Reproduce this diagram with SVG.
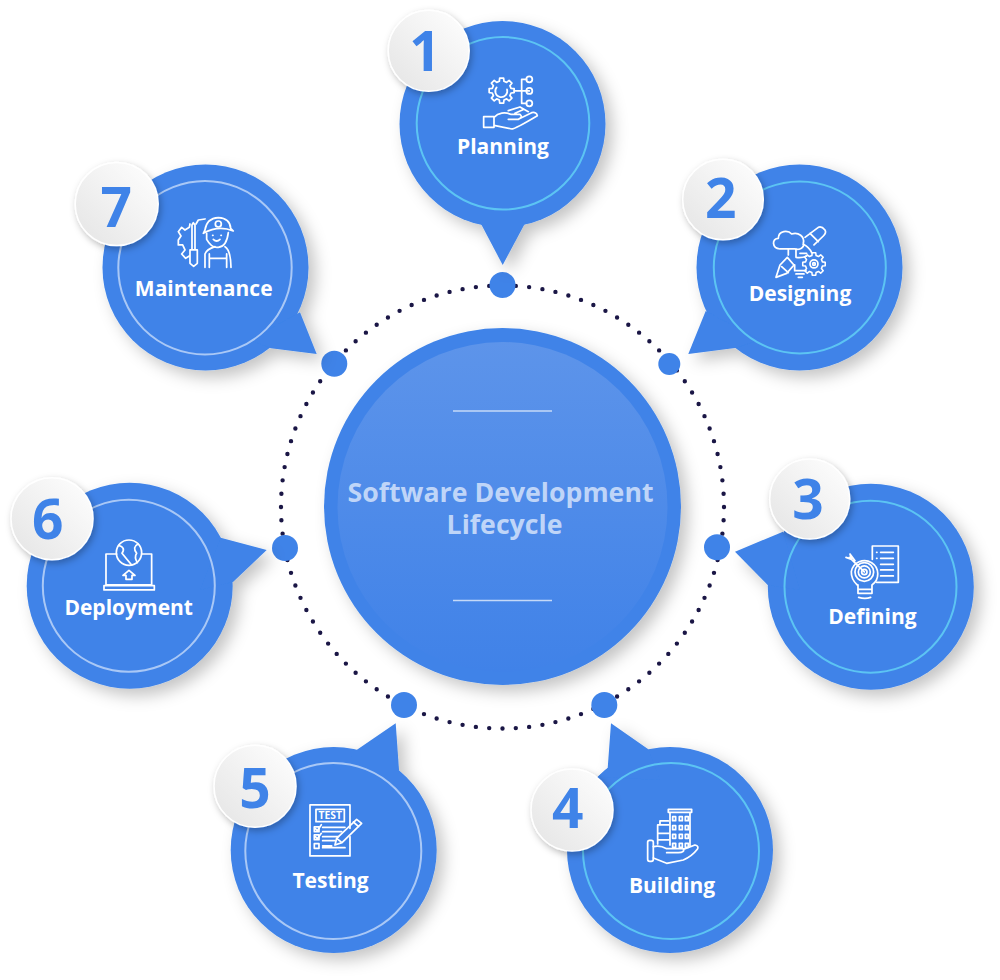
<svg xmlns="http://www.w3.org/2000/svg" width="1000" height="980" viewBox="0 0 1000 980">
<style>
.b{fill:#3f83e8}
.sh{filter:url(#sh)}
.bsh{filter:url(#bsh)}
.rc{fill:none;stroke:#5cc4f3;stroke-width:2}
.rl{fill:none;stroke:#a9c8f6;stroke-width:2}
.lbl{font:700 21px "Open Sans","Liberation Sans",sans-serif;fill:#fff;text-anchor:middle}
.num{font:700 55px "Open Sans","Liberation Sans",sans-serif;fill:#3f83e8;text-anchor:middle}
.ttl{font:700 26.700px "Open Sans","Liberation Sans",sans-serif;fill:#bfd5f8;text-anchor:middle}
.bd{fill:url(#bg);stroke:#fff;stroke-width:1.5}
.ic{fill:none;stroke:#fff;stroke-width:5.200;stroke-linecap:round;stroke-linejoin:round}
.tt{font:700 31px "Open Sans","Liberation Sans",sans-serif;fill:#fff;stroke:none;text-anchor:middle}
</style>
<defs>
<filter id="sh" x="-20%" y="-20%" width="150%" height="150%"><feDropShadow dx="7" dy="7" stdDeviation="8" flood-color="#000" flood-opacity=".23"/></filter>
<filter id="bsh" x="-30%" y="-30%" width="170%" height="170%"><feDropShadow dx="2" dy="3" stdDeviation="3.500" flood-color="#000" flood-opacity=".28"/></filter>
<linearGradient id="bg" x1="0" y1="1" x2="1" y2="0"><stop offset="0" stop-color="#e4e4e4"/><stop offset="1" stop-color="#fff"/></linearGradient>
<linearGradient id="cg" x1="0" y1="0" x2="0" y2="1"><stop offset="0" stop-color="#5d94ea"/><stop offset="1" stop-color="#4082e8"/></linearGradient>
<path id="gear" d="M28.1-7L37.5-5.900V5.900L28.100 7L24.800 14.900L30.700 22.300L22.300 30.700L14.900 24.800L7 28.100L5.900 37.500H-5.900L-7 28.100L-14.900 24.800L-22.300 30.700L-30.700 22.300L-24.800 14.900L-28.100 7L-37.500 5.900V-5.900L-28.100-7L-24.800-14.900L-30.700-22.300L-22.300-30.700L-14.900-24.800L-7-28.100L-5.900-37.500H5.900L7-28.100L14.900-24.800L22.300-30.700L30.700-22.300L24.800-14.900Z"/>
</defs>
<rect width="1000" height="980" fill="#fff"/>

<g id="connectors">
<circle cx="502.500" cy="507" r="221.500" fill="none" stroke="#1a1645" stroke-width="4.400" stroke-linecap="round" pathLength="104" stroke-dasharray="0 1"/>
<circle class="b" cx="502.500" cy="285" r="13"/>
<circle class="b" cx="669.300" cy="364" r="11"/>
<circle class="b" cx="717" cy="547.300" r="13"/>
<circle class="b" cx="604.300" cy="705" r="13"/>
<circle class="b" cx="404" cy="705" r="13"/>
<circle class="b" cx="285" cy="548" r="13"/>
<circle class="b" cx="334.300" cy="363.700" r="13"/>
</g>

<g id="center">
<circle class="b sh" cx="502.500" cy="506.500" r="178.500"/>
<circle cx="502.500" cy="507" r="165" fill="url(#cg)"/>
<path d="M453 411H552M453 600.500H552" stroke="#c5d9f8" stroke-width="1.500" fill="none"/>
<text class="ttl" x="500.500" y="501.500">Software Development</text>
<text class="ttl" x="504.500" y="533.500">Lifecycle</text>
</g>

<g id="node-1">
<g class="sh"><circle class="b" cx="502.500" cy="124" r="103"/><polygon class="b" points="480,222 502.700,265 525.700,222"/></g>
<circle class="rc" cx="503" cy="123.300" r="86.300"/>
<g class="ic" transform="translate(380,0) scale(.3333)">
<use href="#gear" transform="translate(365,272)"/>
<path d="M350 262A18 18 0 1 0 381 268"/>
<path d="M403 273H448M425 238V310M425 238H440M425 310H440"/>
<circle cx="448" cy="238" r="9"/><circle cx="448" cy="273" r="9"/><circle cx="448" cy="310" r="9"/>
<path d="M311 350H342V382H311ZM342 352C355 338 375 335 392 343H420Q430 352 415 358H385M342 376L395 387Q405 387 472 347Q470 335 455 338L415 358M385 332L420 321L445 335M405 340L432 328"/>
</g>
<text class="lbl" x="503" y="154">Planning</text>
<circle class="bd bsh" cx="428.700" cy="50.800" r="40.500"/>
<text class="num" x="425" y="71">1</text>
</g>

<g id="node-2">
<g class="sh"><circle class="b" cx="799.500" cy="267.400" r="103"/><polygon class="b" points="705.700,311 688.300,354 735,348 760,340"/></g>
<circle class="rc" cx="799.800" cy="267.400" r="86"/>
<g class="ic" transform="translate(670,150) scale(.3333)">
<path d="M330 297C305 295 305 265 325 265C325 240 355 240 365 252C385 245 405 260 400 280C405 295 385 300 375 297Z"/>
<path d="M405 262L445 232Q455 228 465 240Q470 248 460 258L432 285M420 250L445 275"/>
<path d="M318 382L330 345L352 322L372 345L350 370ZM335 350L355 368"/>
<path d="M378 297V322Q395 325 410 318M355 297V315M400 283Q418 292 425 308M374 345V362H408M378 372H402M385 382H397M390 310H410"/>
<use href="#gear" transform="translate(432,342) scale(.9)"/>
<circle cx="432" cy="342" r="12"/><circle cx="432" cy="342" r="4"/>
</g>
<text class="lbl" x="800" y="301">Designing</text>
<circle class="bd bsh" cx="723" cy="199.500" r="40.300"/>
<text class="num" x="720.800" y="218.300">2</text>
</g>

<g id="node-3">
<g class="sh"><circle class="b" cx="870.800" cy="586.700" r="103"/><polygon class="b" points="783,531.700 735,551.700 767.700,585 800,590"/></g>
<circle class="rc" cx="870.500" cy="586.700" r="86"/>
<g class="ic" transform="translate(720,470) scale(.3333)">
<path d="M457 268V228H535V337H470"/>
<path d="M482 247H520M482 265H520M482 283H520M482 300H520M482 318H520M470 247H471M470 265H471"/>
<path d="M412 345Q393 328 394 305A40 40 0 1 1 456 345V370H414V345ZM416 382Q435 388 452 382M414 358H455"/>
<circle cx="433" cy="306" r="28"/><circle cx="433" cy="306" r="18"/><circle cx="433" cy="306" r="8"/>
<path d="M433 306L388 262M378 262L395 268L390 252L405 272"/>
</g>
<text class="lbl" x="872.500" y="624.300">Defining</text>
<circle class="bd bsh" cx="809.700" cy="499" r="40"/>
<text class="num" x="808" y="519.300">3</text>
</g>

<g id="node-4">
<g class="sh"><circle class="b" cx="670" cy="850" r="103"/><polygon class="b" points="611,723.300 648.300,749.300 660,780 598,776.700 607.700,768"/></g>
<circle class="rc" cx="671" cy="851" r="88"/>
<g class="ic" transform="translate(520,700) scale(.3333)">
<path d="M445 337V328H515V337ZM450 340V435M510 340V438"/>
<path d="M458 350h9v12h-9zM478 350h9v12h-9zM496 350h9v12h-9zM458 377h9v12h-9zM478 377h9v12h-9zM496 377h9v12h-9zM458 403h9v12h-9zM478 403h9v12h-9zM496 403h9v12h-9zM458 430h9v12h-9zM478 430h9v12h-9zM496 430h9v12h-9z"/>
<path d="M447 375H413V432M420 375V363H445M415 400H447M415 420H447"/>
<rect x="383" y="421" width="17" height="63" rx="6"/>
<path d="M400 440Q420 435 440 446L490 446Q495 458 475 458H440M490 448L525 435Q538 438 532 448Q515 470 490 480L440 490L400 474"/>
</g>
<text class="lbl" x="672" y="892.700">Building</text>
<circle class="bd bsh" cx="572" cy="810" r="41"/>
<text class="num" x="567.700" y="828.300">4</text>
</g>

<g id="node-5">
<g class="sh"><circle class="b" cx="333.700" cy="850" r="103"/><polygon class="b" points="395.700,723.300 357.700,749.300 340,770 399,770"/></g>
<circle class="rl" cx="333.300" cy="851" r="88"/>
<g class="ic" transform="translate(210,700) scale(.3333)">
<path d="M420 385V315H300V468H420V410"/>
<rect x="318" y="328" width="85" height="37"/>
<text class="tt" x="360.500" y="358">TEST</text>
<rect x="313" y="381" width="14" height="14"/><rect x="313" y="405" width="14" height="14"/><rect x="313" y="431" width="14" height="14"/>
<path d="M316 386L322 392L334 374M316 410L322 416L334 400M338 382H405M338 395H395M338 410H385M338 422H375M338 438H365M338 443H405"/>
<path d="M375 435L380 415L440 358L455 370L396 428ZM380 415L396 428M430 366L446 380"/>
</g>
<text class="lbl" x="330.500" y="887.700">Testing</text>
<circle class="bd bsh" cx="255" cy="786.300" r="41"/>
<text class="num" x="255" y="808.300">5</text>
</g>

<g id="node-6">
<g class="sh"><circle class="b" cx="129.700" cy="585.700" r="103"/><polygon class="b" points="220.700,537.700 266.700,550 233.300,581.700 200,590"/></g>
<circle class="rl" cx="128.800" cy="585.800" r="86"/>
<g class="ic" transform="translate(0,470) scale(.3333)">
<path d="M350 252H318V345H455V252H425"/>
<path d="M312 347H463V360H312Z"/>
<circle cx="387" cy="248" r="38"/>
<path d="M356 226Q378 232 366 250Q378 265 395 285M414 222Q396 232 410 250Q402 262 412 278"/>
<path d="M387 301L405 316H396V328H378V316H369Z"/>
</g>
<text class="lbl" x="128.700" y="615.300">Deployment</text>
<circle class="bd bsh" cx="52" cy="518.700" r="41"/>
<text class="num" x="47.800" y="539.300">6</text>
</g>

<g id="node-7">
<g class="sh"><circle class="b" cx="205.500" cy="267.400" r="103"/><polygon class="b" points="300,312.300 316.700,354 271,348.300 250,340"/></g>
<circle class="rl" cx="205" cy="267.800" r="86.700"/>
<g class="ic" transform="translate(70,150) scale(.3333)">
<path d="M378 222L385 210L405 207M360 222L358 232L345 240L335 232L325 245L333 258L325 270V285H338L345 300L335 312L347 325L358 318"/>
<path d="M366 300V225L370 218L375 225V300M360 300H382V340L371 349L360 340Z"/>
<path d="M405 240Q410 205 445 203Q480 205 482 235L490 243Q445 225 400 250Z"/>
<circle cx="445" cy="222" r="9"/>
<path d="M410 250V268Q425 295 445 292Q470 290 475 248M430 268Q440 278 450 268M428 256H429M453 256H454"/>
<path d="M405 352V312Q410 298 435 290M465 290Q482 300 483 352M418 312V352M470 312V352M418 325H470"/>
</g>
<text class="lbl" x="203.700" y="296">Maintenance</text>
<circle class="bd bsh" cx="116.700" cy="204" r="41.500"/>
<text class="num" x="116.300" y="227.300">7</text>
</g>
</svg>
